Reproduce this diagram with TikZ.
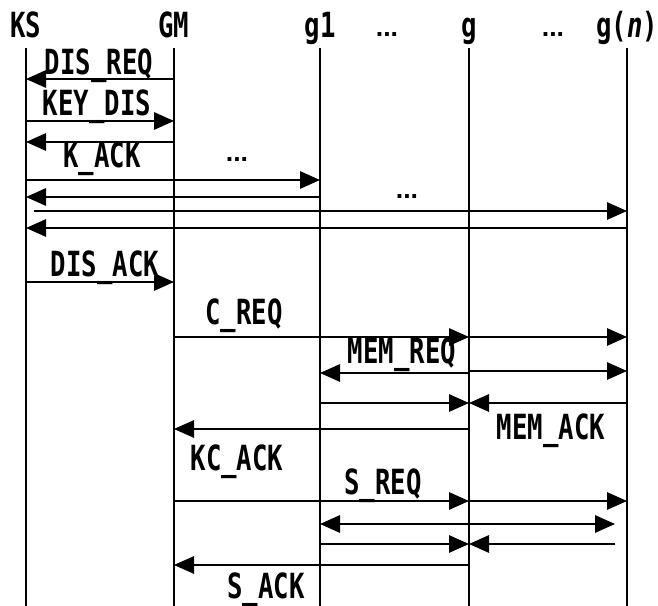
\documentclass[tikz,border=0pt]{standalone}
\usepackage{fontspec}
\setmainfont{Liberation Sans}
\newfontfamily\gotico{DejaVu Sans Mono}[FakeStretch=0.74]
\usetikzlibrary{arrows.meta}

\begin{document}
\begin{tikzpicture}[x=0.75pt, y=-0.75pt,
    vita/.style={line width=1.6pt},
    msg/.style={line width=1.5pt, -{Triangle[length=15pt,width=13pt]}},
    doppio/.style={line width=1.5pt, {Triangle[length=15pt,width=13pt]}-{Triangle[length=15pt,width=13pt]}},
    testo/.style={font=\gotico\bfseries\fontsize{26}{30}\selectfont, inner sep=0pt, anchor=base},
    punti/.style={font=\bfseries\fontsize{20}{24}\selectfont, inner sep=0pt, anchor=base}]
    \useasboundingbox (0,0) rectangle (658,606);

    % Linee di vita: nome / x / intestazione
    \foreach \nome/\x/\titolo in {KS/26/KS, GM/174/GM, g1/320/g1, g/469/g, gn/627/g(\textit{n})}{
        \node[testo] (h\nome) at (\x,38) {\titolo};
        \coordinate (\nome) at (\x,48);
        \draw[vita] (\nome) -- (\x,606);
    }
    \node[punti] (p1) at (387,37) {...};
    \node[punti] (p2) at (553,37) {...};

    % Fase di distribuzione della chiave
    \draw[msg] (GM |- 0,79) -- (KS |- 0,79);
    \node[testo] (lDISREQ) at (99,75) {DIS\_REQ};
    \draw[msg] (KS |- 0,121) -- (GM |- 0,121);
    \node[testo] (lKEYDIS) at (97,116) {KEY\_DIS};
    \draw[msg] (GM |- 0,142) -- (KS |- 0,142);
    \node[testo] (lKACK) at (102,168) {K\_ACK};
    \node[punti] (p3) at (237,162) {...};
    \draw[msg] (KS |- 0,180) -- (g1 |- 0,180);
    \draw[msg] (g1 |- 0,197) -- (KS |- 0,197);
    \coordinate (s6) at (34,211);
    \draw[msg] (s6) -- (gn |- s6);
    \node[punti] (p4) at (407,199) {...};
    \draw[msg] (gn |- 0,228) -- (KS |- 0,228);
    \draw[msg] (KS |- 0,282) -- (GM |- 0,282);
    \node[testo] (lDISACK) at (105,277) {DIS\_ACK};

    % Fase di verifica dei membri
    \draw[msg] (GM |- 0,337) -- (g |- 0,337);
    \draw[msg] (g |- 0,337) -- (gn |- 0,337);
    \node[testo] (lCREQ) at (244,325) {C\_REQ};
    \draw[msg] (g |- 0,373) -- (g1 |- 0,373);
    \draw[msg] (g |- 0,371) -- (gn |- 0,371);
    \node[testo] (lMEMREQ) at (402,364) {MEM\_REQ};
    \draw[msg] (g1 |- 0,403) -- (g |- 0,403);
    \draw[msg] (gn |- 0,403) -- (g |- 0,403);
    \node[testo] (lMEMACK) at (551,440) {MEM\_ACK};
    \draw[msg] (g |- 0,429) -- (GM |- 0,429);
    \node[testo] (lKCACK) at (237,470) {KC\_ACK};

    % Fase di sincronizzazione
    \draw[msg] (GM |- 0,501) -- (g |- 0,501);
    \draw[msg] (g |- 0,501) -- (gn |- 0,501);
    \node[testo] (lSREQ) at (383,494) {S\_REQ};
    \coordinate (f14) at (615,524);
    \draw[doppio] (g1 |- f14) -- (f14);
    \coordinate (f15) at (615,544);
    \draw[msg] (g1 |- f15) -- (g |- f15);
    \draw[msg] (f15) -- (g |- f15);
    \draw[msg] (g |- 0,565) -- (GM |- 0,565);
    \node[testo] (lSACK) at (266,598) {S\_ACK};
\end{tikzpicture}
\end{document}
